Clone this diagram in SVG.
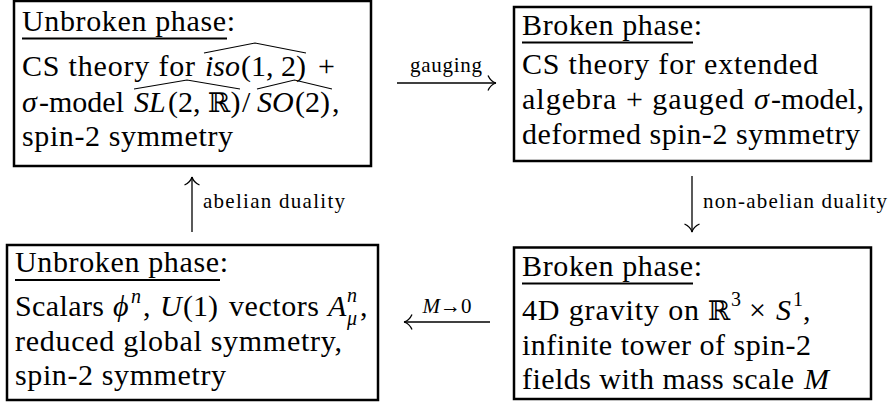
<svg xmlns="http://www.w3.org/2000/svg" width="894" height="402" viewBox="0 0 894 402">
<defs>
<style>
.box{fill:none;stroke:#000;stroke-width:2.5}
.ul{stroke:#000;stroke-width:2.2}
.hat{fill:none;stroke:#000;stroke-width:1.2;stroke-linejoin:miter}
.t{font-family:"Liberation Serif","DejaVu Serif",serif;font-size:30px;fill:#000}
.i{font-style:italic}
.bb{font-family:"DejaVu Serif","DejaVu Sans",serif;font-size:27px}
.sup{font-size:20px}
.lbl{font-family:"Liberation Serif","DejaVu Serif",serif;font-size:21px;fill:#000}
.con{fill:none;stroke:#000;stroke-width:1.3}
</style>
<marker id="head" markerUnits="userSpaceOnUse" markerWidth="12" markerHeight="18" refX="10" refY="9" orient="auto" overflow="visible">
<path d="M2,1.5 C3.8,5.5 6.5,8 10,9 M2,16.5 C3.8,12.5 6.5,10 10,9" fill="none" stroke="#000" stroke-width="1.3"/>
</marker>
</defs>
<rect width="894" height="402" fill="#fff"/>

<g id="connectors">
<g id="c-gauging">
<line class="con" x1="397" y1="83" x2="496" y2="83" marker-end="url(#head)"/>
<text class="lbl" x="446" y="72" text-anchor="middle" textLength="72">gauging</text>
</g>
<g id="c-abelian">
<line class="con" x1="192" y1="232" x2="192" y2="177" marker-end="url(#head)"/>
<text class="lbl" x="203" y="208" textLength="142">abelian duality</text>
</g>
<g id="c-nonabelian">
<line class="con" x1="692" y1="176" x2="692" y2="232" marker-end="url(#head)"/>
<text class="lbl" x="703" y="208" textLength="184">non-abelian duality</text>
</g>
<g id="c-massless">
<line class="con" x1="490" y1="322" x2="404" y2="322" marker-end="url(#head)"/>
<text class="lbl" x="447" y="313" text-anchor="middle" style="font-size:21px"><tspan class="i">M</tspan>→0</text>
</g>
</g>

<g id="n-unbroken-cs">
<rect class="box" x="14" y="1" width="357" height="165"/>
<text class="t" x="22" y="31" textLength="213">Unbroken phase:</text>
<line class="ul" x1="22" y1="38.5" x2="227" y2="38.5"/>
<text class="t" x="22" y="76" textLength="173">CS theory for</text>
<text class="t i" x="205" y="76">iso</text>
<text class="t" x="241" y="76">(1, 2)</text>
<text class="t" x="318" y="76">+</text>
<path class="hat" d="M204,53 L255,43 L306,53"/>
<text class="t i" x="22" y="112">σ</text>
<text class="t" x="39" y="112" textLength="85">-model</text>
<text class="t i" x="134" y="112">SL</text>
<text class="t" x="168" y="112">(2, <tspan class="bb">ℝ</tspan>)</text>
<text class="t" x="242" y="112">/</text>
<text class="t i" x="257" y="112">SO</text>
<text class="t" x="295" y="112">(2)</text>
<text class="t" x="332" y="112">,</text>
<path class="hat" d="M134,89 L187,80 L240,89"/>
<path class="hat" d="M257,89 L294.5,80 L332,89"/>
<text class="t" x="22" y="146" textLength="211">spin-2 symmetry</text>
</g>

<g id="n-broken-cs">
<rect class="box" x="514" y="7" width="357" height="154"/>
<text class="t" x="522" y="35" textLength="180">Broken phase:</text>
<line class="ul" x1="522" y1="42.5" x2="693" y2="42.5"/>
<text class="t" x="522" y="74" textLength="296">CS theory for extended</text>
<text class="t" x="522" y="109" textLength="222">algebra + gauged</text>
<text class="t i" x="754" y="109">σ</text>
<text class="t" x="771" y="109" textLength="93">-model,</text>
<text class="t" x="522" y="144" textLength="338">deformed spin-2 symmetry</text>
</g>

<g id="n-unbroken-scalars">
<rect class="box" x="7" y="245" width="371" height="155"/>
<text class="t" x="15" y="272" textLength="213">Unbroken phase:</text>
<line class="ul" x1="15" y1="280" x2="220" y2="280"/>
<text class="t" x="15" y="316" textLength="89">Scalars</text>
<text class="t i" x="113" y="316">ϕ</text>
<text class="t i sup" x="131" y="303">n</text>
<text class="t" x="143" y="316">,</text>
<text class="t i" x="160" y="316">U</text>
<text class="t" x="183" y="316">(1)</text>
<text class="t" x="229" y="316" textLength="90">vectors</text>
<text class="t i" x="328" y="316">A</text>
<text class="t i sup" x="347" y="302">n</text>
<text class="t i sup" x="347" y="325">μ</text>
<text class="t" x="360" y="316">,</text>
<text class="t" x="15" y="351" textLength="327">reduced global symmetry,</text>
<text class="t" x="15" y="385" textLength="211">spin-2 symmetry</text>
</g>

<g id="n-broken-gravity">
<rect class="box" x="514" y="247.5" width="357" height="151.5"/>
<text class="t" x="522" y="276" textLength="180">Broken phase:</text>
<line class="ul" x1="522" y1="283.5" x2="693" y2="283.5"/>
<text class="t" x="522" y="320" textLength="177">4D gravity on</text>
<text class="t bb" x="708" y="320">ℝ</text>
<text class="t sup" x="731" y="306">3</text>
<text class="t" x="749" y="320">×</text>
<text class="t i" x="776" y="320">S</text>
<text class="t sup" x="793" y="306">1</text>
<text class="t" x="803" y="320">,</text>
<text class="t" x="522" y="355" textLength="289">infinite tower of spin-2</text>
<text class="t" x="522" y="389" textLength="272">fields with mass scale</text>
<text class="t i" x="804" y="389">M</text>
</g>
</svg>
